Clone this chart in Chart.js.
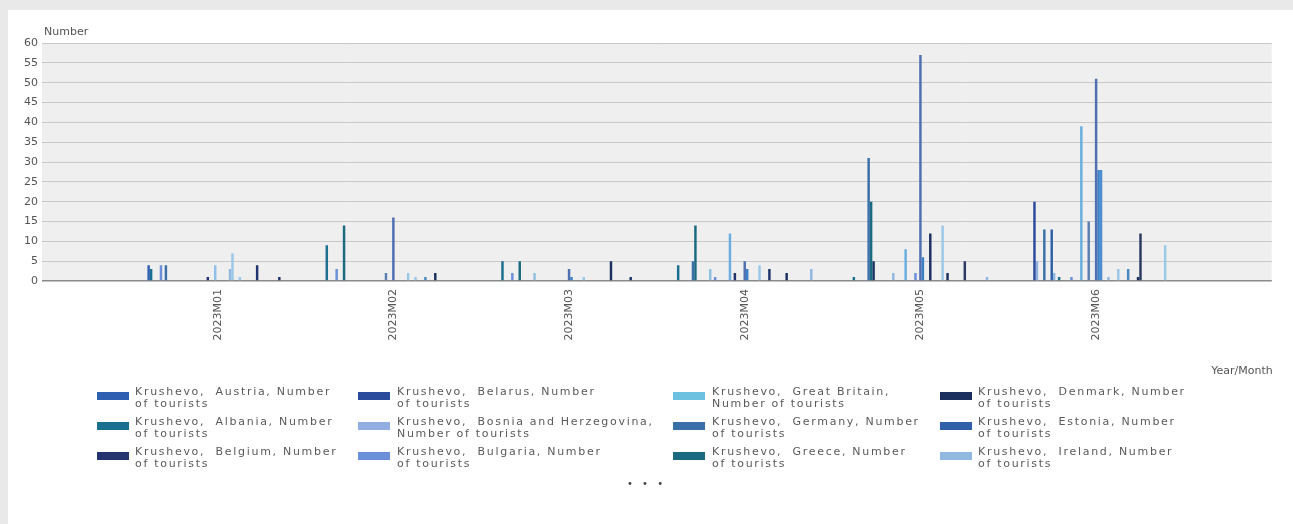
<!DOCTYPE html>
<html>
<head>
<meta charset="utf-8">
<script src="https://cdn.jsdelivr.net/npm/chart.js@4.4.1/dist/chart.umd.min.js"></script>
<style>
  html, body { margin: 0; padding: 0; background: #e9e9e9; width: 1293px; height: 524px; overflow: hidden; }
  #panel { position: absolute; left: 8px; top: 10px; width: 1285px; height: 514px; background: #fff; }
  #wrap { position: absolute; left: 0; top: 0; width: 1293px; height: 380px; }
  #legend { position: absolute; left: 0; top: 0; width: 1293px; height: 524px; pointer-events: none;
            font-family: "DejaVu Sans", sans-serif; font-size: 11px; color: #5a5a5a; }
  .sw { position: absolute; width: 32px; height: 8px; }
  .txt { position: absolute; line-height: 12px; white-space: pre; letter-spacing: 1.7px; }
  #more { position: absolute; left: 627px; top: 478px; font-size: 10px; color: #444; letter-spacing: 3px; }
</style>
</head>
<body>
<div id="panel"></div>
<div id="wrap"><canvas id="myChart" width="1293" height="380"></canvas></div>
<div id="legend"></div>

<script>
// x categories, empty ones at both ends give the half-slot padding of the original
let categories = ['', '2023M01', '2023M02', '2023M03', '2023M04', '2023M05', '2023M06', ''];

// countries in the order of the source table
let countries = ['Austria', 'Albania', 'Belgium', 'Belarus', 'Bosnia and Herzegovina', 'Bulgaria',
  'Great Britain', 'Germany', 'Greece', 'Denmark', 'Estonia', 'Ireland', 'Iceland', 'Italy', 'Cyprus',
  'Latvia', 'Lithuania', 'Liechtenstein', 'Luxembourg', 'Malta', 'Moldova', 'Norway', 'Poland',
  'Portugal', 'Romania', 'Russian Federation', 'Slovakia', 'Slovenia', 'Serbia', 'Kosovo', 'Turkey',
  'Ukraine', 'Hungary', 'Finland', 'France', 'Netherlands', 'Croatia', 'Montenegro', 'Czech Republic',
  'Switzerland', 'Sweden', 'Spain', 'Other European countries', 'South Africa', 'Other African countries',
  'USA', 'Canada', 'Other North American countries', 'South and Central America', 'Israel', 'Japan',
  'China', 'Republic of Korea', 'Other Asian countries', 'Australia', 'New Zealand', 'Other countries of Oceania'];

// number of tourists, one array per month, one value per country (same order as above)
let m01 = [4,3,0,0,0,4,0,4,0,0, 0,0,0,0,0,0,0,0,0,0, 0,0,0,0,1,0,0,4,0,0, 0,0,0,3,7,0,0,1,0,0, 0,0,0,0,4,0,0,0,0,0, 0,0,0,1,0,0,0];
let m02 = [0,9,0,0,0,3,0,0,14,0, 0,0,0,0,0,0,0,0,0,0, 0,0,0,0,0,2,0,0,16,0, 0,0,0,0,2,0,0,1,0,0, 0,1,0,0,0,2,0,0,0,0, 0,0,0,0,0,0,0];
let m03 = [0,5,0,0,0,2,0,0,5,0, 0,0,0,0,2,0,0,0,0,0, 0,0,0,0,0,0,0,0,3,1, 0,0,0,0,1,0,0,0,0,0, 0,0,0,0,0,5,0,0,0,0, 0,0,0,1,0,0,0];
let m04 = [0,4,0,0,0,0,0,5,14,0, 0,0,0,0,3,0,1,0,0,0, 0,0,12,0,2,0,0,0,5,3, 0,0,0,0,4,0,0,0,3,0, 0,0,0,0,0,2,0,0,0,0, 0,0,0,0,0,3,0];
let m05 = [0,1,0,0,0,0,0,31,20,5, 0,0,0,0,0,0,0,2,0,0, 0,0,8,0,0,0,2,0,57,6, 0,0,12,0,0,0,0,14,0,2, 0,0,0,0,0,0,5,0,0,0, 0,0,0,0,0,1,0];
let m06 = [0,0,0,20,5,0,0,13,0,0, 13,2,0,1,0,0,0,0,1,0, 0,0,39,0,0,15,0,0,51,28, 28,0,0,1,0,0,0,3,0,0, 0,3,0,0,0,1,12,0,0,0, 0,0,0,0,0,0,9];
let months = [m01, m02, m03, m04, m05, m06];

// one blue per series, the first twelve are the ones seen in the legend
let palette = ['#2f5fb0', '#1a6e8e', '#22336e', '#2a4a9c', '#90aee0', '#6b8fd8',
  '#6cc0e0', '#3a70a8', '#1a6a80', '#1c3060', '#3060a8', '#90b8e0',
  '#2f5fb0', '#1a6e8e', '#8fc0e0', '#2a4a9c', '#6b8fd8', '#90b8e0', '#6b8fd8', '#3a70a8',
  '#1a6a80', '#1c3060', '#6aaee0', '#90b8e0', '#22336e', '#5a7fb0', '#6b8fd8', '#90c0e8',
  '#4f6fb0', '#3a80c8', '#4a90d0', '#1a6a80', '#1c3060', '#90b8e0', '#9cc8e8', '#2a4a9c',
  '#90aee0', '#9cc8e8', '#22336e', '#1c3060', '#3060a8', '#4a88c0', '#2f5fb0', '#1a6e8e',
  '#22336e', '#1c3060', '#2a3a60', '#6b8fd8', '#6cc0e0', '#3a70a8', '#1a6a80', '#1c3060',
  '#3060a8', '#22336e', '#90b8e0', '#90b8e0', '#9cc8e8'];

let font = '"DejaVu Sans", sans-serif';

let datasets = countries.map(function (c, i) {
  return {
    label: 'Krushevo,  ' + c + ', Number of tourists',
    data: [null].concat(months.map(m => m[i])).concat([null]),
    backgroundColor: palette[i],
    borderWidth: 0,
    barPercentage: 1,
    categoryPercentage: 0.8
  };
});

// grey plot background and the two axis captions
let plotDecor = {
  id: 'plotDecor',
  beforeDraw(chart) {
    let a = chart.chartArea, ctx = chart.ctx;
    ctx.save();
    ctx.fillStyle = '#efefef';
    ctx.fillRect(a.left, a.top, a.right - a.left, a.bottom - a.top);
    ctx.restore();
  },
  afterDraw(chart) {
    let a = chart.chartArea, ctx = chart.ctx;
    ctx.save();
    ctx.fillStyle = '#555';
    ctx.font = '11px ' + font;
    ctx.textBaseline = 'middle';
    ctx.textAlign = 'left';
    ctx.fillText('Number', a.left + 2, 32);
    ctx.textAlign = 'right';
    ctx.fillText('Year/Month', a.right + 1, 371);
    ctx.restore();
  }
};

let ctx = document.getElementById('myChart').getContext('2d');
let chart = new Chart(ctx, {
  type: 'bar',
  data: { labels: categories, datasets: datasets },
  options: {
    responsive: false,
    animation: false,
    layout: { padding: { left: 0, right: 18, top: 43, bottom: 0 } },
    plugins: { legend: { display: false }, tooltip: { enabled: false } },
    scales: {
      x: {
        offset: false,
        grid: { display: false, drawTicks: false },
        border: { display: false },
        ticks: { autoSkip: false, maxRotation: 90, minRotation: 90, padding: 8, color: '#555', font: { family: font, size: 11 } },
        afterFit(s) { s.height = 99; }
      },
      y: {
        min: 0,
        max: 60,
        ticks: { stepSize: 5, padding: 4, color: '#555', font: { family: font, size: 11 } },
        grid: { drawTicks: false, color: c => c.tick.value === 0 ? '#8a8a8a' : '#c9c9c9', lineWidth: c => c.tick.value === 0 ? 1.5 : 1 },
        border: { display: false },
        afterFit(s) { s.width = 42; }
      }
    }
  },
  plugins: [plotDecor]
});

// html legend, first 12 series in 4 columns of 3, then "..."
let items = Chart.defaults.plugins.legend.labels.generateLabels(chart).slice(0, 12);
let legend = document.getElementById('legend');
let colSwatch = [97, 358, 673, 940];
let colText = [135, 397, 712, 978];
let mctx = document.createElement('canvas').getContext('2d');
mctx.font = '11px ' + font;
let limit = mctx.measureText('Krushevo,  Bulgaria, Number').width + 12;

items.forEach(function (it, i) {
  let col = Math.floor(i / 3), row = i % 3;
  let sw = document.createElement('div');
  sw.className = 'sw';
  sw.style.left = colSwatch[col] + 'px';
  sw.style.top = (392 + row * 30) + 'px';
  sw.style.background = it.fillStyle;
  legend.appendChild(sw);

  // break before "of tourists" when "Number" still fits, else before "Number"
  let t = it.text;
  let cut = t.indexOf(', Number') + 1;
  let first = t.slice(0, cut + 7);
  let line1, line2;
  if (mctx.measureText(first).width <= limit) {
    line1 = first; line2 = t.slice(cut + 8);
  } else {
    line1 = t.slice(0, cut); line2 = t.slice(cut + 1);
  }
  let tx = document.createElement('div');
  tx.className = 'txt';
  tx.style.left = colText[col] + 'px';
  tx.style.top = (386 + row * 30) + 'px';
  tx.textContent = line1 + '\n' + line2;
  legend.appendChild(tx);
});

let more = document.createElement('div');
more.id = 'more';
more.textContent = '• • •';
legend.appendChild(more);
</script>
</body>
</html>
